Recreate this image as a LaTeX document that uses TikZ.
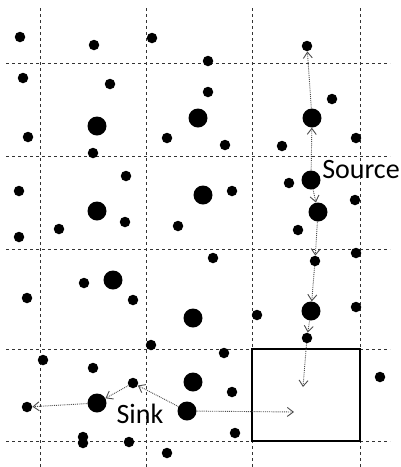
\documentclass[tikz,border=0pt]{standalone}
\usepackage{fontspec}
\setmainfont{Carlito}
\usetikzlibrary{arrows.meta}

\begin{document}
\begin{tikzpicture}[x=1pt, y=-1pt,
    >={Straight Barb[length=6pt, width=9pt]},
    smalldot/.style={circle, fill=black, inner sep=0pt, minimum size=10.5pt},
    bigdot/.style={circle, fill=black, inner sep=0pt, minimum size=19pt},
    gridline/.style={gray!40!black, line width=0.9pt, dash pattern=on 3pt off 3pt},
    flow/.style={->, gray!60!black, line width=0.9pt, densely dotted},
    txt/.style={font=\fontsize{28}{30}\selectfont, inner sep=0pt, anchor=base}]

    \useasboundingbox (0,0) rectangle (401,467);

    % Draw the grid
    \foreach \y in {63,156,249,349,441}
        \draw[gridline] (6,\y) -- (390,\y);
    \foreach \x in {40,146,252,360}
        \draw[gridline] (\x,8) -- (\x,467);

    % Draw the target cell
    \node[draw, line width=2.6pt, minimum width=108pt, minimum height=92pt, inner sep=0pt] (cell) at (306,395) {};

    % Draw the other sensors
    \foreach \x/\y [count=\i] in {20/37, 94/45, 152/38, 23/78, 110/84, 208/61, 208/92,
        332/99, 28/137, 93/153, 167/138, 225/145, 282/146, 356/138, 126/176, 19/191,
        289/183, 232/191, 355/200, 125/222, 59/229, 19/237, 178/226, 298/230, 84/283,
        27/298, 133/300, 213/258, 356/253, 356/307, 257/315, 151/345, 43/360, 93/368,
        224/353, 380/377, 232/392, 83/437, 83/443, 129/442, 167/453, 235/433}
        \node[smalldot] (s\i) at (\x,\y) {};
    \foreach \x/\y [count=\i] in {97/126, 198/118, 203/195, 97/211, 113/280, 193/318, 193/382}
        \node[bigdot] (b\i) at (\x,\y) {};

    % Draw the source path
    \node[bigdot] (src) at (311,180) {};
    \node[bigdot] (up1) at (312,118) {};
    \node[smalldot] (up2) at (307,46) {};
    \node[bigdot] (dn1) at (318,212) {};
    \node[smalldot] (dn2) at (315,261) {};
    \node[bigdot] (dn3) at (311,311) {};
    \node[smalldot] (dn4) at (307,338) {};
    \coordinate (srcend) at (303,387);

    % Draw the sink path
    \node[bigdot] (snk) at (187,411) {};
    \node[smalldot] (lf1) at (133,383) {};
    \node[bigdot] (lf2) at (97,403) {};
    \node[smalldot] (lf3) at (27,407) {};
    \coordinate (snkend) at (294,412);

    % Draw connections
    \draw[flow] (src) -- (up1);
    \draw[flow] (up1) -- (up2);
    \draw[flow] (src) -- (dn1);
    \draw[flow] (dn1) -- (dn2);
    \draw[flow] (dn2) -- (dn3);
    \draw[flow] (dn3) -- (dn4);
    \draw[flow] (dn4) -- (srcend);
    \draw[flow] (snk) -- (lf1);
    \draw[flow] (lf1) -- (lf2);
    \draw[flow] (lf2) -- (lf3);
    \draw[flow] (snk) -- (snkend);

    % Labels
    \node[txt] (srclabel) at (361,178) {Source};
    \node[txt] (snklabel) at (140,423) {Sink};

\end{tikzpicture}
\end{document}
